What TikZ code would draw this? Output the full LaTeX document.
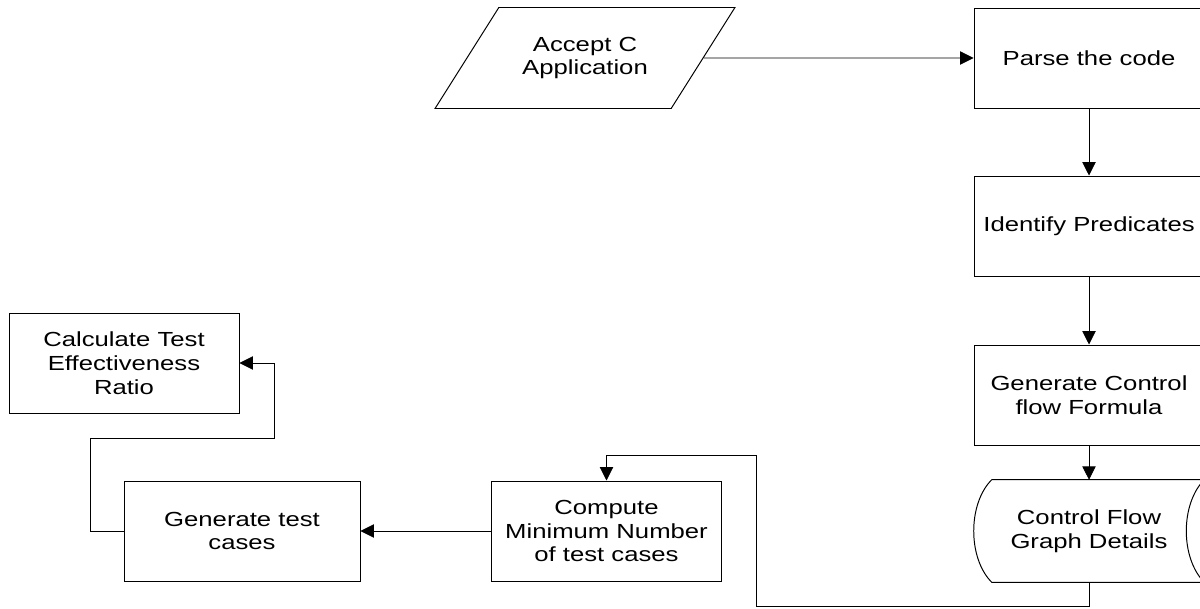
\documentclass[tikz,border=0pt]{standalone}
\usepackage{fontspec}
\setmainfont{Liberation Sans}[FakeStretch=1.26]
\usetikzlibrary{positioning, shapes.geometric, arrows.meta}

\begin{document}
\begin{tikzpicture}[node distance=3cm,on grid,
		font=\fontsize{14.5}{17}\selectfont,
		box/.style={draw,rectangle,minimum width=5.75cm,minimum height=2.5cm,align=center,line width=0.7pt},
		io/.style={draw,trapezium,trapezium left angle=46,trapezium right angle=134,trapezium stretches=true,
			minimum width=7.5cm,minimum height=2.525cm,align=center,line width=0.7pt},
		store/.style={rectangle,minimum width=5.75cm,minimum height=2.55cm,align=center},
		flow/.style={-{Triangle[length=9.5pt,width=9.5pt]},line width=0.6pt}]
	\useasboundingbox (0,0) rectangle (30,-15.225);
			\node[box] (parse) at (27.225,-1.45)			{Parse the code};
			\node[io] (accept) [left=12.6cm of parse]		{Accept C\\Application};
			\node[box] (ident) [below=4.2cm of parse]		{Identify Predicates};
			\node[box] (genctl) [below=4.225cm of ident]	{Generate Control\\flow Formula};
			\node[store] (cfg) [below=3.4cm of genctl]		{Control Flow\\Graph Details};
			\node[box] (compute) [left=12.0625cm of cfg]	{Compute\\Minimum Number\\of test cases};
			\node[box,minimum width=5.9cm] (gentest) [left=9.1125cm of compute] {Generate test\\cases};
			\node[box] (calc) [above left=4.2cm and 2.95cm of gentest] {Calculate Test\\Effectiveness\\Ratio};
			% stored data outline
			\draw[line width=0.7pt] ([xshift=0.45cm]cfg.north west) -- (cfg.north east)
				.. controls +(-0.6,-0.6) and +(-0.6,0.6) .. (cfg.south east)
				-- ([xshift=0.45cm]cfg.south west)
				.. controls +(-0.6,0.6) and +(-0.6,-0.6) .. cycle;
			% bends of the loops
			\coordinate (l1) at (18.9,-15.15);
			\coordinate (l2) at (18.9,-11.375);
			\coordinate (c1) at (2.25,-10.95);
			\coordinate (c2) at (6.85,-10.95);
			\path[flow] 	(accept.east) edge 	(parse.west)
						(parse) edge	(ident)
						(ident) edge	(genctl)
						(genctl) edge	(cfg)
						(compute) edge	(gentest);
			\draw[flow] (cfg.south) |- (l1) -- (l2) -| (compute.north);
			\draw[flow] (gentest.west) -| (c1) -- (c2) |- (calc.east);
	\end{tikzpicture}
\end{document}
